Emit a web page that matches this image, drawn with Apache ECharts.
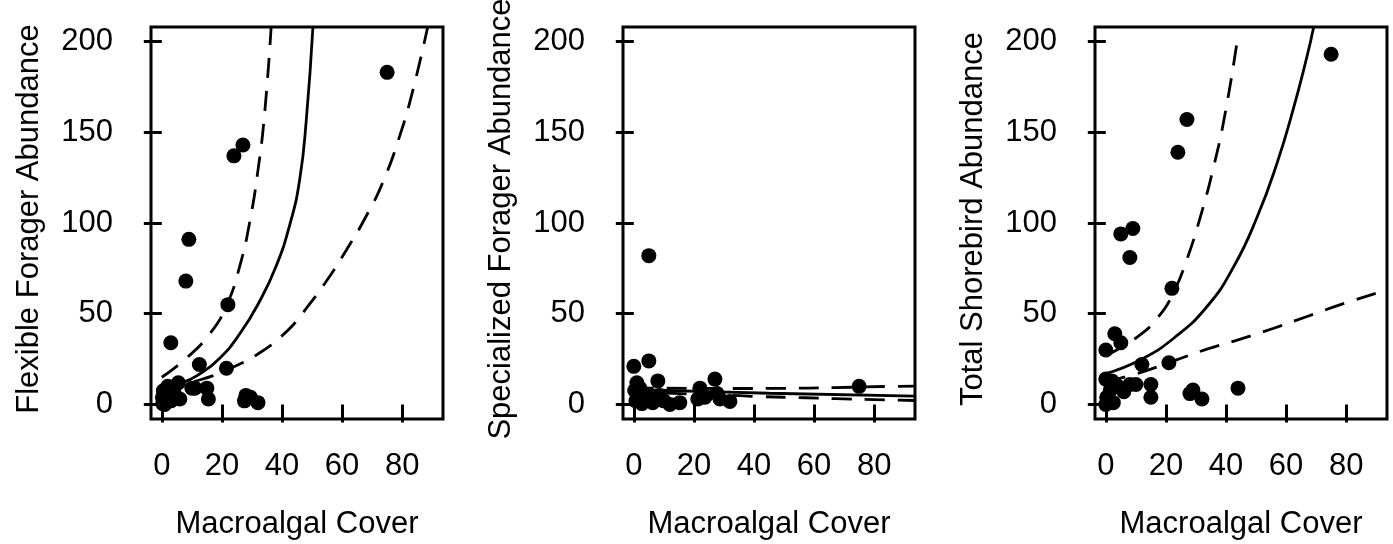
<!DOCTYPE html>
<html>
<head>
<meta charset="utf-8">
<script src="https://cdn.jsdelivr.net/npm/echarts@6/dist/echarts.min.js"></script>
<style>
  html, body { margin: 0; padding: 0; background: #fff; }
  #chart { width: 1393px; height: 544px; }
</style>
</head>
<body>
<div id="chart"></div>
<script>
// tick labels
var xTicks = [0, 20, 40, 60, 80];
var yTicks = [0, 50, 100, 150, 200];
var yTitles = ['Flexible Forager Abundance', 'Specialized Forager Abundance', 'Total Shorebird Abundance'];
var xTitle = 'Macroalgal Cover';

// panel 1 - flexible foragers
var flexX = [75, 27, 24, 9, 8, 22, 3, 12.5, 21.5, 15, 15.5, 28, 29.5, 32, 27.5, 0.3, 0.5, 2, 3, 4, 5.5, 6, 2, 10, 11, 0.2, 1];
var flexY = [183, 143, 137, 91, 68, 55, 34, 22, 20, 9, 3, 5, 4, 1, 2, 0.5, 7.5, 10, 2, 7, 12, 3, 6, 9, 9, 4, 0];
var flexFitX = [0, 6.8, 12.6, 19.2, 25.9, 32.6, 38, 42.6, 45.9, 48.1, 50.3];
var flexFitY = [10, 12, 16.8, 25.4, 38.8, 57, 76, 99, 124, 157, 208];
var flexUpX = [0, 8.1, 15.9, 21.4, 25.9, 29.2, 32, 34.2, 36.4];
var flexUpY = [15, 25.4, 38.8, 54, 76, 100, 129, 160, 208];
var flexLoX = [0, 12.6, 23.7, 32.6, 41.4, 48.1, 54.8, 61.4, 68.1, 73.7, 79.2, 83.7, 88.5];
var flexLoY = [9, 13.5, 20.6, 28.5, 40, 53, 68, 85, 104, 123, 148, 174, 208];

// panel 2 - specialized foragers
var specX = [5, 0, 5, 8, 27, 75, 22, 1, 0.3, 0.7, 2.7, 4.3, 6.3, 8.7, 12, 15.3, 21.3, 23.7, 27.7, 28.7, 32, 2, 3, 10];
var specY = [82, 21, 24, 13, 14, 10, 9, 12, 7.7, 2, 0.5, 5, 1, 5, 0, 1, 3, 4, 6, 3, 1.7, 9, 4, 2];
var specFitX = [0, 11, 45, 93.6];
var specFitY = [8.2, 7.7, 6.2, 4.6];
var specUpX = [0, 33, 50, 67, 83, 93.6];
var specUpY = [9.2, 8.8, 8.9, 9.3, 9.9, 10.1];
var specLoX = [0, 33, 43, 57, 67, 80, 93.6];
var specLoY = [6.8, 5, 4.3, 3.7, 3.2, 2.7, 2.2];

// panel 3 - total shorebirds
var totX = [75, 27, 24, 9, 5, 8, 22, 3, 5, 0, 12, 21, 44, 15, 15, 28, 29, 32, 10, 8, 6, 0, 2, 0.3, 0, 2.5, 1.5, 4, 0.7];
var totY = [193, 157, 139, 97, 94, 81, 64, 39, 34, 30, 22, 23, 9, 11, 4, 6, 8, 3, 11, 11, 7, 14, 13, 4, 0, 1, 8, 10, 1];
var totFitX = [0, 11.4, 22.6, 33.7, 42.6, 50.3, 57, 62.6, 67, 69.2];
var totFitY = [17, 24.5, 36.5, 54, 76, 103, 133, 164, 192, 208];
var totUpX = [0, 10.3, 17.6, 22.6, 27, 31.4, 35.9, 39.8, 43.7];
var totUpY = [27, 37, 48.5, 62, 80, 103, 131, 161, 200];
var totLoX = [0, 10.3, 22.6, 33.7, 44.8, 55.9, 67, 78.1, 90.3];
var totLoY = [12.5, 17, 24, 30.5, 36, 42, 48.5, 55, 61.5];

var panels = [
  { px: flexX, py: flexY, fit: [flexFitX, flexFitY], up: [flexUpX, flexUpY], lo: [flexLoX, flexLoY] },
  { px: specX, py: specY, fit: [specFitX, specFitY], up: [specUpX, specUpY], lo: [specLoX, specLoY] },
  { px: totX, py: totY, fit: [totFitX, totFitY], up: [totUpX, totUpY], lo: [totLoX, totLoY] }
];

function pairs(xs, ys) {
  var out = [];
  for (var i = 0; i < xs.length; i++) out.push([xs[i], ys[i]]);
  return out;
}

var font = 'Liberation Sans, Arial, Helvetica, sans-serif';
var fs = 31;
var lefts = [151, 623, 1095];
var grids = [], xAxes = [], yAxes = [], series = [];

for (var i = 0; i < 3; i++) {
  grids.push({
    left: lefts[i], top: 27, width: 292, height: 392,
    show: true, borderColor: '#000', borderWidth: 3, backgroundColor: '#fff',
    containLabel: false, outerBoundsMode: 'none'
  });
  xAxes.push({
    type: 'value', gridIndex: i, min: -3.6, max: 93.6,
    axisLine: { show: false },
    axisTick: { show: true, length: 18, customValues: xTicks, lineStyle: { color: '#000', width: 3 } },
    axisLabel: { customValues: xTicks, margin: 32, color: '#000', fontSize: fs, fontFamily: font },
    splitLine: { show: false },
    name: xTitle, nameLocation: 'middle', nameGap: 90,
    nameTextStyle: { color: '#000', fontSize: fs, fontFamily: font }
  });
  yAxes.push({
    type: 'value', gridIndex: i, min: -8, max: 208,
    axisLine: { show: false },
    axisTick: { show: true, length: 18, customValues: yTicks, lineStyle: { color: '#000', width: 3 } },
    axisLabel: { customValues: yTicks, margin: 38, color: '#000', fontSize: fs, fontFamily: font },
    splitLine: { show: false },
    name: yTitles[i], nameLocation: 'middle', nameGap: 106,
    // small nudge so the title sits a little higher, like the reference
    nameTextStyle: { color: '#000', fontSize: fs, fontFamily: font, padding: [0, 0, 0, 8] }
  });

  var p = panels[i];
  series.push({
    type: 'scatter', xAxisIndex: i, yAxisIndex: i,
    data: pairs(p.px, p.py), symbol: 'circle', symbolSize: 15,
    itemStyle: { color: '#000', opacity: 1 }, silent: true
  });
  var lines = [[p.fit, 'solid'], [p.up, [20, 13]], [p.lo, [20, 13]]];
  for (var k = 0; k < lines.length; k++) {
    series.push({
      type: 'line', xAxisIndex: i, yAxisIndex: i,
      data: pairs(lines[k][0][0], lines[k][0][1]),
      showSymbol: false, smooth: 0.5, clip: true,
      lineStyle: { color: '#000', width: 2.8, type: lines[k][1] },
      silent: true, z: 3
    });
  }
}

var myChart = echarts.init(document.getElementById('chart'));
myChart.setOption({
  animation: false,
  backgroundColor: '#fff',
  grid: grids,
  xAxis: xAxes,
  yAxis: yAxes,
  series: series
});
</script>
</body>
</html>
